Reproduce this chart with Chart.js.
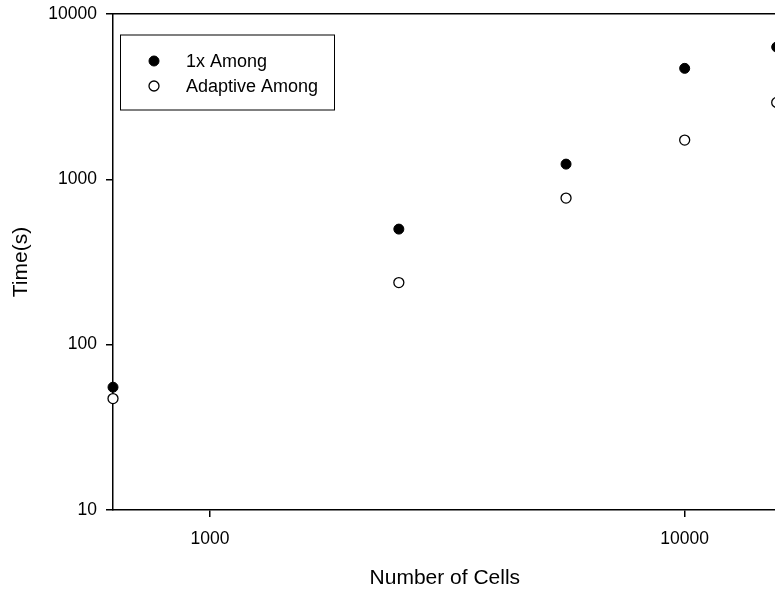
<!DOCTYPE html>
<html>
<head>
<meta charset="utf-8">
<script src="https://cdn.jsdelivr.net/npm/chart.js@4.4.1/dist/chart.umd.min.js"></script>
<style>
  html, body { margin: 0; padding: 0; overflow: hidden; background: #fff; }
  #wrap { width: 775px; height: 592px; overflow: hidden; }
</style>
</head>
<body>
<div id="wrap"><canvas id="chartScatter" width="783" height="592"></canvas></div>
<script>
const cells = [625, 2500, 5625, 10000, 15625];
const timeOneX = [55.3, 500, 1236, 4690, 6310];
const timeAdaptive = [47.2, 237.5, 770, 1728, 2917];
const xTicks = [1000, 10000];
const yTicks = [10, 100, 1000, 10000];

const FONT = 'Arial, "Liberation Sans", sans-serif';

function toPoints(xs, ys) {
    return xs.map((x, i) => ({x: x, y: ys[i]}));
}

// legend box inside the plot, top-left
const boxLegend = {
    id: 'boxLegend',
    afterDraw(chart) {
        const {ctx, chartArea} = chart;
        const left = chartArea.left + 7.5;
        const top = chartArea.top + 21;
        ctx.save();
        ctx.strokeStyle = '#000';
        ctx.lineWidth = 1;
        ctx.strokeRect(left, top, 214, 75);
        ctx.font = '18px ' + FONT;
        ctx.textBaseline = 'middle';
        ctx.fillStyle = '#000';
        chart.data.datasets.forEach((ds, i) => {
            const y = top + 26 + i * 25;
            ctx.beginPath();
            ctx.arc(left + 33.5, y, 5, 0, Math.PI * 2);
            ctx.fillStyle = ds.backgroundColor;
            ctx.fill();
            ctx.lineWidth = ds.borderWidth;
            ctx.strokeStyle = ds.borderColor;
            ctx.stroke();
            ctx.fillStyle = '#000';
            ctx.fillText(ds.label, left + 65.5, y + 1);
        });
        ctx.restore();
    }
};

const ctxScatter = document.getElementById('chartScatter');
const chartScatter = new Chart(ctxScatter, {
    type: 'scatter',
    data: {
        datasets: [
            {
                label: '1x Among',
                data: toPoints(cells, timeOneX),
                backgroundColor: '#000',
                borderColor: '#000',
                borderWidth: 1,
                pointRadius: 5,
                clip: false,
            },
            {
                label: 'Adaptive Among',
                data: toPoints(cells, timeAdaptive),
                backgroundColor: '#fff',
                borderColor: '#000',
                borderWidth: 1.3,
                pointRadius: 5,
                clip: false,
            },
        ]
    },
    options: {
        responsive: false,
        animation: false,
        layout: {
            padding: {top: 14, left: 0, right: 4, bottom: 0}
        },
        plugins: {
            legend: { display: false },
            tooltip: { enabled: false },
        },
        scales: {
            x: {
                type: 'logarithmic',
                position: 'bottom',
                min: 625,
                max: 15625,
                afterBuildTicks: (scale) => { scale.ticks = xTicks.map(v => ({value: v})); },
                afterFit: (scale) => {
                    scale.height = 82;
                    scale.paddingLeft = 0;
                    scale.paddingRight = 0;
                },
                grid: { drawOnChartArea: false, drawTicks: true, tickLength: 7, color: '#000', lineWidth: 1.5 },
                border: { color: '#000', width: 1.5 },
                ticks: {
                    padding: 12,
                    color: '#000',
                    font: { family: FONT, size: 17.5 },
                    maxRotation: 0,
                    callback: (v) => String(v),
                },
                title: {
                    display: true,
                    text: 'Number of Cells',
                    color: '#000',
                    font: { family: FONT, size: 21 },
                    padding: { top: 0, bottom: 1 },
                },
            },
            xTop: {
                type: 'linear',
                position: 'top',
                grid: { display: false },
                ticks: { display: false },
                border: { color: '#000', width: 1.5 },
                afterFit: (scale) => {
                    scale.height = 0;
                    scale.paddingLeft = 0;
                    scale.paddingRight = 0;
                },
            },
            y: {
                type: 'logarithmic',
                min: 10,
                max: 10000,
                afterBuildTicks: (scale) => { scale.ticks = yTicks.map(v => ({value: v})); },
                afterFit: (scale) => {
                    scale.width = 113;
                    scale.paddingTop = 0;
                    scale.paddingBottom = 0;
                },
                grid: { drawOnChartArea: false, drawTicks: true, tickLength: 7, color: '#000', lineWidth: 1.5 },
                border: { color: '#000', width: 1.5 },
                ticks: {
                    padding: 9,
                    color: '#000',
                    font: { family: FONT, size: 17.5 },
                    callback: (v) => String(v),
                },
                title: {
                    display: true,
                    text: 'Time(s)',
                    color: '#000',
                    font: { family: FONT, size: 21 },
                    padding: { top: 9, bottom: 0 },
                },
            },
        },
    },
    plugins: [boxLegend],
});
</script>
</body>
</html>
